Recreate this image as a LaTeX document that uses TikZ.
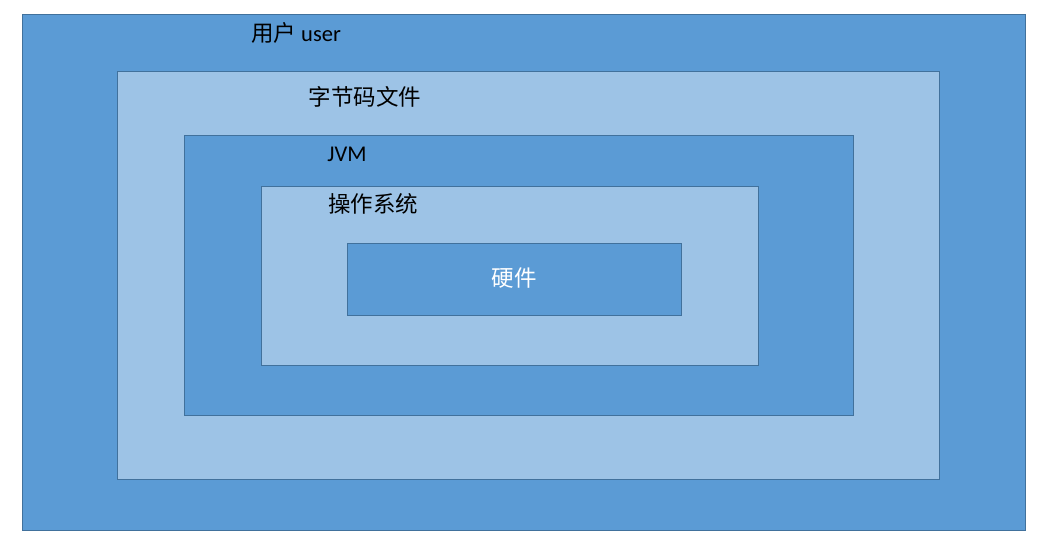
\documentclass[tikz,border=0pt]{standalone}
\usepackage{fontspec}
\setmainfont{Carlito}
\newfontfamily\cjk{Noto Sans CJK SC}
\definecolor{layerdark}{HTML}{5B9BD5}
\definecolor{layerlight}{HTML}{9DC3E6}
\definecolor{layeredge}{HTML}{41719C}
\begin{document}
\begin{tikzpicture}[
      x=1pt, y=-1pt,
      layer/.style={rectangle, draw=layeredge, line width=0.8pt, inner sep=0pt},
      dark/.style={layer, fill=layerdark},
      light/.style={layer, fill=layerlight},
      lbl/.style={inner sep=0pt, font=\fontsize{22.5}{27}\selectfont},
    ]
    \useasboundingbox (0,0) rectangle (1042,547);
    \node[dark,  minimum width=1003pt, minimum height=516pt] (user)  at (523.5, 272)   {};
    \node[light, minimum width=822pt,  minimum height=408pt] (bytecode) at (528, 275) {};
    \node[dark,  minimum width=669pt,  minimum height=280pt] (jvm)   at (518.5, 275)   {};
    \node[light, minimum width=497pt,  minimum height=179pt] (os)    at (509.5, 275.5) {};
    \node[dark,  minimum width=334pt,  minimum height=72pt]  (hw)    at (514, 279)     {};

    \node[lbl] (userlbl) at (296, 33)  {{\cjk 用户} user};
    \node[lbl] (bclbl)   at (365, 97)  {\cjk 字节码文件};
    \node[lbl] (jvmlbl)  at (347, 154) {JVM};
    \node[lbl] (oslbl)   at (373, 204) {\cjk 操作系统};
    \node[lbl, text=white] (hwlbl) at (514, 278) {\cjk 硬件};
  \end{tikzpicture}
\end{document}
